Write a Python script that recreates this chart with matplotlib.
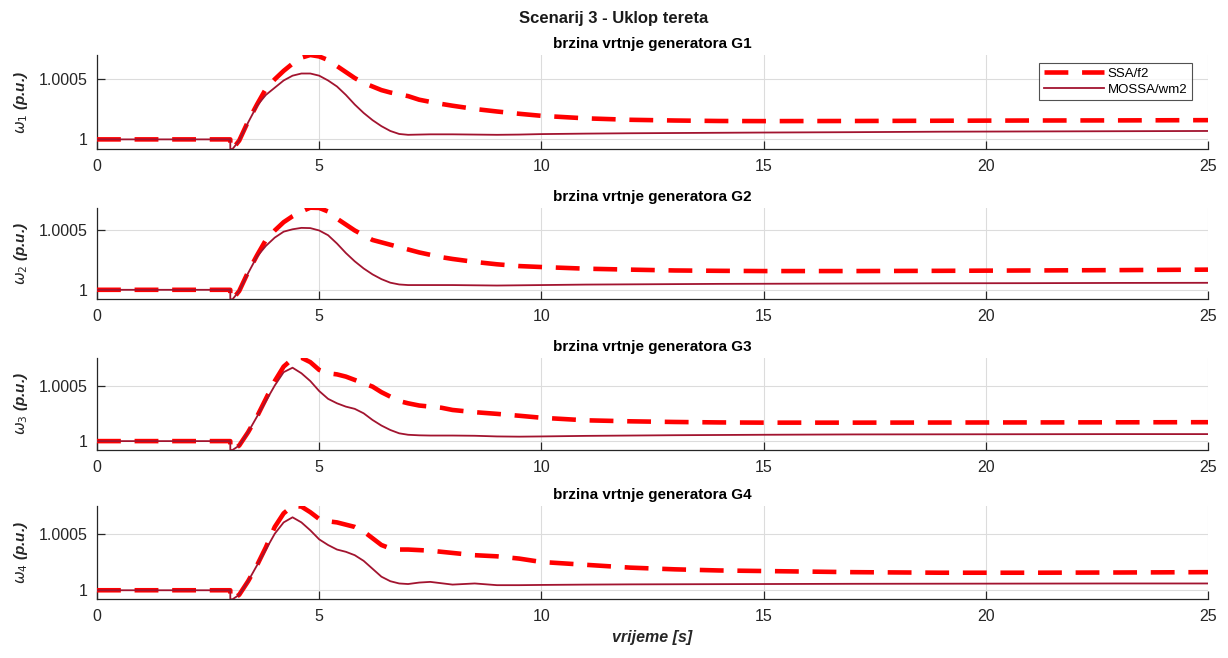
import matplotlib
matplotlib.use("Agg")
import matplotlib.pyplot as plt

plt.rcParams['font.family'] = ['Liberation Sans', 'DejaVu Sans']
plt.rcParams['mathtext.fontset'] = 'dejavusans'

# ---------------- data ----------------
t = [0, 2.999, 3.0, 3.05, 3.2, 3.4, 3.6, 3.8, 4.0, 4.2, 4.4, 4.6, 4.8, 5.0,
     5.2, 5.4, 5.6, 5.8, 6.0, 6.2, 6.4, 6.6, 6.8, 7.0, 7.25, 7.5, 7.75, 8,
     8.5, 9, 9.5, 10, 11, 12, 13, 14, 15, 17, 19, 21, 23, 25]

g1_ssa = [1.0, 1.0, 0.99992, 0.99992, 0.99999, 1.00015, 1.00029, 1.00042,
          1.0005, 1.00057, 1.00063, 1.00068, 1.000702, 1.00069, 1.00066,
          1.00061, 1.00056, 1.00051, 1.00047, 1.00044, 1.00041, 1.00039,
          1.000375, 1.00036, 1.00033, 1.000312, 1.000295, 1.00028, 1.000253,
          1.000232, 1.000213, 1.000196, 1.000175, 1.000163, 1.000157, 1.000153,
          1.000152, 1.000153, 1.000155, 1.000157, 1.000158, 1.00016]
g1_mossa = [1.0, 1.0, 0.99992, 0.99992, 0.99999, 1.00014, 1.00028, 1.00037,
            1.00043, 1.00049, 1.00053, 1.000548, 1.000548, 1.00053, 1.00049,
            1.00044, 1.00037, 1.00029, 1.00022, 1.00016, 1.00011, 1.00007,
            1.000045, 1.000038, 1.00004, 1.000042, 1.000042, 1.000042, 1.00004,
            1.000038, 1.00004, 1.000044, 1.000048, 1.000051, 1.000053, 1.000055,
            1.000057, 1.00006, 1.000064, 1.000066, 1.000068, 1.00007]

g2_ssa = [1.0, 1.0, 0.99992, 0.99992, 0.99999, 1.00015, 1.00029, 1.00042,
          1.0005, 1.00057, 1.00062, 1.00066, 1.000692, 1.00069, 1.00066,
          1.0006, 1.00055, 1.0005, 1.00046, 1.00042, 1.0004, 1.00038, 1.00036,
          1.00034, 1.000315, 1.000295, 1.000275, 1.00026, 1.000235, 1.000215,
          1.0002, 1.000192, 1.000178, 1.00017, 1.000163, 1.00016, 1.000158,
          1.000158, 1.00016, 1.000163, 1.000166, 1.00017]
g2_mossa = [1.0, 1.0, 0.99992, 0.99992, 0.99999, 1.00014, 1.00028, 1.00037,
            1.00044, 1.00049, 1.00051, 1.000522, 1.00052, 1.0005, 1.00046,
            1.00039, 1.00031, 1.00024, 1.00018, 1.00013, 1.00009, 1.00006,
            1.000045, 1.00004, 1.00004, 1.00004, 1.00004, 1.00004, 1.000038,
            1.000036, 1.000038, 1.00004, 1.000044, 1.000046, 1.000048, 1.00005,
            1.000051, 1.000053, 1.000055, 1.000056, 1.000058, 1.000059]

g3_ssa = [1.0, 1.0, 0.99992, 0.99992, 0.99996, 1.00008, 1.00022, 1.00038,
          1.00054, 1.00067, 1.00074, 1.00075, 1.00071, 1.00064, 1.00061,
          1.0006, 1.00058, 1.00055, 1.00052, 1.00049, 1.00044, 1.0004, 1.00036,
          1.00034, 1.00032, 1.00031, 1.0003, 1.00028, 1.00026, 1.000245,
          1.000228, 1.00021, 1.000187, 1.000178, 1.000172, 1.000168, 1.000166,
          1.000166, 1.000167, 1.000168, 1.000169, 1.00017]
g3_mossa = [1.0, 1.0, 0.99992, 0.99992, 0.99996, 1.00008, 1.00022, 1.00036,
            1.0005, 1.00062, 1.00066, 1.00061, 1.00054, 1.00045, 1.00038,
            1.00034, 1.00031, 1.00029, 1.00025, 1.00019, 1.00014, 1.0001,
            1.00007, 1.000057, 1.000052, 1.00005, 1.00005, 1.00005, 1.000048,
            1.000042, 1.00004, 1.000042, 1.000047, 1.00005, 1.000053, 1.000055,
            1.000057, 1.00006, 1.000061, 1.000062, 1.000063, 1.000063]

g4_ssa = [1.0, 1.0, 0.99992, 0.99992, 0.99996, 1.00008, 1.00022, 1.00038,
          1.00056, 1.00068, 1.000745, 1.00074, 1.00069, 1.00063, 1.00061,
          1.0006, 1.00058, 1.00056, 1.00052, 1.00046, 1.0004, 1.00037, 1.00036,
          1.00036, 1.000355, 1.00035, 1.00034, 1.00033, 1.00031, 1.0003,
          1.00028, 1.00025, 1.000225, 1.0002, 1.000185, 1.000175, 1.00017,
          1.00016, 1.000155, 1.000155, 1.000157, 1.00016]
g4_mossa = [1.0, 1.0, 0.99992, 0.99992, 0.99996, 1.00008, 1.00022, 1.00036,
            1.0005, 1.0006, 1.000645, 1.0006, 1.00053, 1.00045, 1.0004,
            1.00036, 1.00034, 1.00031, 1.00026, 1.00019, 1.00012, 1.00008,
            1.00006, 1.000055, 1.000068, 1.000074, 1.000062, 1.00005, 1.00006,
            1.000045, 1.000045, 1.000047, 1.00005, 1.000052, 1.000053, 1.000054,
            1.000055, 1.000057, 1.000058, 1.000059, 1.00006, 1.00006]

ssa_series = [g1_ssa, g2_ssa, g3_ssa, g4_ssa]
mossa_series = [g1_mossa, g2_mossa, g3_mossa, g4_mossa]
subtitles = ['brzina vrtnje generatora G1', 'brzina vrtnje generatora G2',
             'brzina vrtnje generatora G3', 'brzina vrtnje generatora G4']
ylabels = [r'$\omega_1$ (p.u.)', r'$\omega_2$ (p.u.)',
           r'$\omega_3$ (p.u.)', r'$\omega_4$ (p.u.)']
yticks = [1.0, 1.0005]
ytick_labels = ['1', '1.0005']
xticks = [0, 5, 10, 15, 20, 25]
xtick_labels = ['0', '5', '10', '15', '20', '25']
legend_labels = ['SSA/f2', 'MOSSA/wm2']
suptitle = 'Scenarij 3 - Uklop tereta'
xlabel = 'vrijeme [s]'

# ---------------- figure ----------------
W, H = 1228, 658
fig = plt.figure(figsize=(W / 100, H / 100), dpi=100)
fig.patch.set_facecolor('white')

left = 97 / W
width = (1208 - 97) / W
boxes = [(55, 149), (207.7, 299.3), (357.7, 450), (506, 599.3)]

spine_col = '#262626'
for i, (top, bot) in enumerate(boxes):
    ax = fig.add_axes([left, 1 - bot / H, width, (bot - top) / H])
    ln1, = ax.plot(t, ssa_series[i], color='#ff0000', lw=3.3,
                   dashes=(5.2, 3.0), solid_capstyle='butt', zorder=3)
    ln2, = ax.plot(t, mossa_series[i], color='#a2142f', lw=1.3, zorder=4)
    allv = ssa_series[i] + mossa_series[i]
    ax.set_xlim(0, 25)
    ax.set_ylim(min(allv), max(allv))
    ax.set_xticks(xticks, labels=xtick_labels)
    ax.set_yticks(yticks, labels=ytick_labels)
    ax.grid(True, color='#dcdcdc', lw=0.8)
    ax.set_axisbelow(True)
    for s in ['top', 'right']:
        ax.spines[s].set_visible(False)
    for s in ['left', 'bottom']:
        ax.spines[s].set_color(spine_col)
        ax.spines[s].set_linewidth(0.9)
    ax.tick_params(direction='in', length=6, width=0.9, colors=spine_col,
                   labelsize=11.5, labelcolor='#262626', pad=7)
    ax.set_title(subtitles[i], fontsize=11, fontweight='bold', pad=5)
    ax.set_ylabel(ylabels[i], fontsize=11, fontweight='bold', style='italic',
                  color='#262626', labelpad=6)
    if i == 0:
        leg = ax.legend([ln1, ln2], legend_labels, loc='upper right',
                        bbox_to_anchor=(0.988, 0.945), fontsize=9.5,
                        frameon=True, fancybox=False, handlelength=4.6,
                        borderpad=0.35, labelspacing=0.3, handletextpad=0.25,
                        borderaxespad=0.2)
        leg.get_frame().set_edgecolor('#262626')
        leg.get_frame().set_linewidth(0.8)
    if i == 3:
        ax.set_xlabel(xlabel, fontsize=11.5, fontweight='bold', style='italic',
                      color='#262626', labelpad=4)

fig.text(0.5, 1 - 18 / H, suptitle, ha='center', va='center', fontsize=12,
         fontweight='bold', color='#1a1a1a')

fig.savefig('out.png', dpi=100, facecolor='white')
